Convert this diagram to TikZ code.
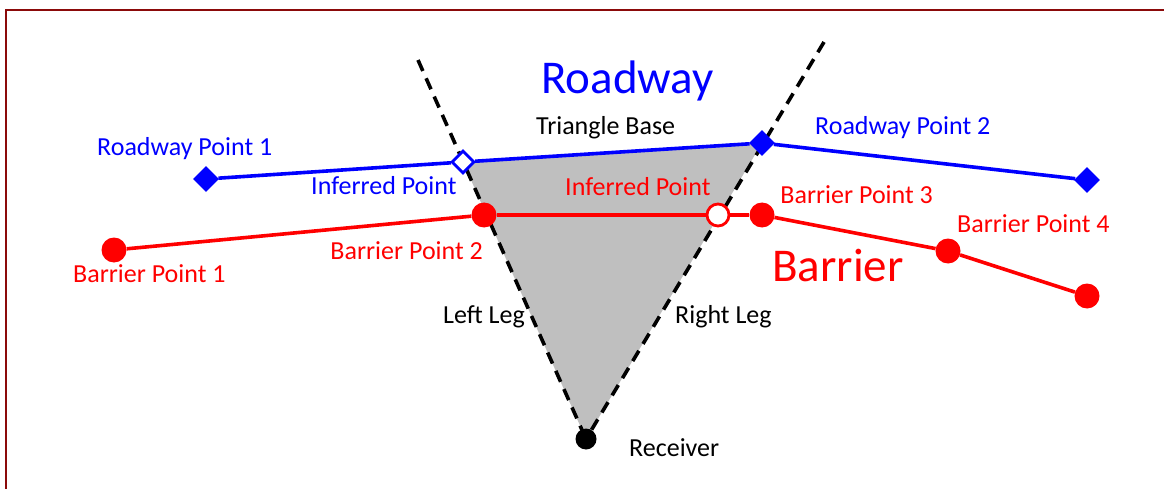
\documentclass[tikz,border=0pt]{standalone}
\usepackage{fontspec}
\setmainfont{Carlito}
\usetikzlibrary{shapes.geometric}
\definecolor{roadblue}{HTML}{0000FF}
\definecolor{barred}{HTML}{FF0000}
\definecolor{trigray}{HTML}{BFBFBF}
\definecolor{frame}{HTML}{8B0A0A}
\begin{document}
\begin{tikzpicture}[x=1pt,y=-1pt,
  lbl/.style={font=\fontsize{26}{30}\selectfont, inner sep=0pt},
  big/.style={font=\fontsize{47}{54}\selectfont, inner sep=0pt},
  rdiam/.style={diamond, fill=roadblue, minimum size=26pt, inner sep=0pt},
  rdiamopen/.style={diamond, draw=roadblue, line width=2.8pt, fill=white, minimum size=23pt, inner sep=0pt},
  bdot/.style={circle, fill=barred, minimum size=25pt, inner sep=0pt},
  bdotopen/.style={circle, draw=barred, line width=2.8pt, fill=white, minimum size=22pt, inner sep=0pt},
  recdot/.style={circle, fill=black, minimum size=21pt, inner sep=0pt},
  roadline/.style={draw=roadblue, line width=3.6pt},
  barline/.style={draw=barred, line width=3.6pt},
  legline/.style={draw=black, line width=3.6pt, dash pattern=on 12pt off 8pt},
]
\useasboundingbox (0,0) rectangle (1164,489);
% frame
\draw[frame, line width=2pt] (6,489) -- (6,10) -- (1164,10);

% points
\coordinate (rec) at (586,439);
\coordinate (topL) at (418,60);
\coordinate (topR) at (824,42);
\coordinate (rinfC) at (463,162);
\coordinate (rp2C) at (762,143);

% triangle
\fill[trigray] (rinfC) -- (rp2C) -- (rec) -- cycle;
% legs
\draw[legline] (topL) -- (rec);
\draw[legline] (topR) -- (rec);

% markers
\node[rdiam] (rp1) at (206,179) {};
\node[rdiamopen] (rinf) at (rinfC) {};
\node[rdiam] (rp2) at (rp2C) {};
\node[rdiam] (rp3) at (1087,180) {};

\node[bdot] (bp1) at (114,250) {};
\node[bdot] (bp2) at (484,215) {};
\node[bdotopen] (binf) at (718,215) {};
\node[bdot] (bp3) at (762,215) {};
\node[bdot] (bp4) at (948,251) {};
\node[bdot] (bp5) at (1087,296) {};

\node[recdot] (recv) at (rec) {};

% roadway line
\draw[roadline] (rp1) -- (rinf);
\draw[roadline] (rinf) -- (rp2);
\draw[roadline] (rp2) -- (rp3);
% barrier line
\draw[barline] (bp1) -- (bp2);
\draw[barline] (bp2) -- (binf);
\draw[barline] (binf) -- (bp3);
\draw[barline] (bp3) -- (bp4);
\draw[barline] (bp4) -- (bp5);

% labels
\node[big, text=roadblue, anchor=base west] (tRoad) at (541,94) {Roadway};
\node[big, text=barred, anchor=base west] (tBar) at (772,281) {Barrier};
\node[lbl, text=roadblue, anchor=base west] (tRP1) at (97,156) {Roadway Point 1};
\node[lbl, text=roadblue, anchor=base west] (tRP2) at (815,135) {Roadway Point 2};
\node[lbl, text=roadblue, anchor=base west] (tRinf) at (311,194) {Inferred Point};
\node[lbl, text=black, anchor=base west] (tBase) at (536,135) {Triangle Base};
\node[lbl, text=barred, anchor=base west] (tBinf) at (565,196) {Inferred Point};
\node[lbl, text=barred, anchor=base west] (tBP1) at (73,282) {Barrier Point 1};
\node[lbl, text=barred, anchor=base east] (tBP2) at (483,259) {Barrier Point 2};
\node[lbl, text=barred, anchor=base east] (tBP3) at (933,204) {Barrier Point 3};
\node[lbl, text=barred, anchor=base west] (tBP4) at (957,233) {Barrier Point 4};
\node[lbl, text=black, anchor=base west] (tLL) at (443,323) {Left Leg};
\node[lbl, text=black, anchor=base west] (tRL) at (675,323) {Right Leg};
\node[lbl, text=black, anchor=base west] (tRec) at (629,456) {Receiver};
\end{tikzpicture}
\end{document}
